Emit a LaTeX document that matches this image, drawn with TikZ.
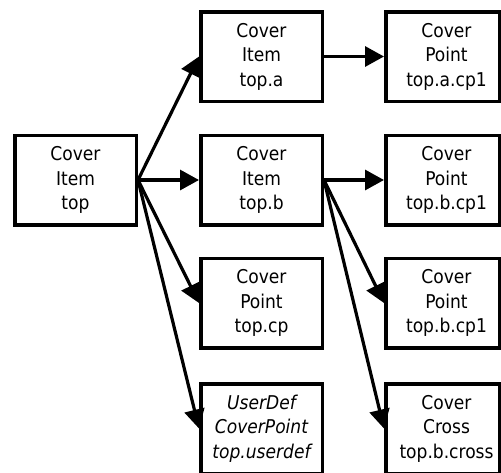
\documentclass[tikz,border=0pt]{standalone}
\usepackage{fontspec}
\setmainfont{DejaVu Sans Condensed}
\usetikzlibrary{arrows.meta}
\tikzset{
  item/.style={draw=black, line width=3.5pt, fill=white, rectangle,
    minimum width=121.5pt, minimum height=89.5pt, inner sep=0pt,
    align=center, font=\fontsize{19}{24.5}\selectfont},
  edgebox/.style={item, minimum width=113.5pt},
  lbl/.style={align=center, inner sep=0pt, font=\fontsize{19}{24.5}\selectfont},
  link/.style={line width=3.2pt, -{Triangle[length=19pt,width=20pt]}}
}
\begin{document}
\begin{tikzpicture}[x=1pt,y=-1pt]
\useasboundingbox (0,0) rectangle (501,472);
\fill[white] (0,0) rectangle (501,472);

% root item
\node[item] (top) at (75.5,180) {Cover\\Item\\top};

% second column
\node[item] (ta) at (261.5,56.5) {Cover\\Item\\top.a};
\node[item] (tb) at (261.5,180) {Cover\\Item\\top.b};
\node[item] (tcp) at (261.5,303) {Cover\\Point\\top.cp};
\node[item] (tud) at (261.5,428.5) {\itshape UserDef\\\itshape CoverPoint\\\itshape top.userdef};

% third column (boxes run to the right edge)
\node[edgebox] (tacp) at (442.5,56.5) {};
\node[lbl] (tacpt) at (446.5,56.5) {Cover\\Point\\top.a.cp1};
\node[edgebox] (tbcp) at (442.5,180) {};
\node[lbl] (tbcpt) at (446.5,180) {Cover\\Point\\top.b.cp1};
\node[edgebox] (tbcq) at (442.5,303) {};
\node[lbl] (tbcqt) at (446.5,303) {Cover\\Point\\top.b.cp1};
\node[edgebox] (tbx) at (442.5,428.5) {};
\node[lbl] (tbxt) at (446.5,428.5) {Cover\\Cross\\top.b.cross};

% connectors
\draw[link] (top.east) -- (ta.west);
\draw[link] (top.east) -- (tb.west);
\draw[link] (top.east) -- (tcp.west);
\draw[link] (top.east) -- (tud.west);
\draw[link] (ta.east) -- (tacp.west);
\draw[link] (tb.east) -- (tbcp.west);
\draw[link] (tb.east) -- (tbcq.west);
\draw[link] (tb.east) -- (tbx.west);
\end{tikzpicture}
\end{document}
